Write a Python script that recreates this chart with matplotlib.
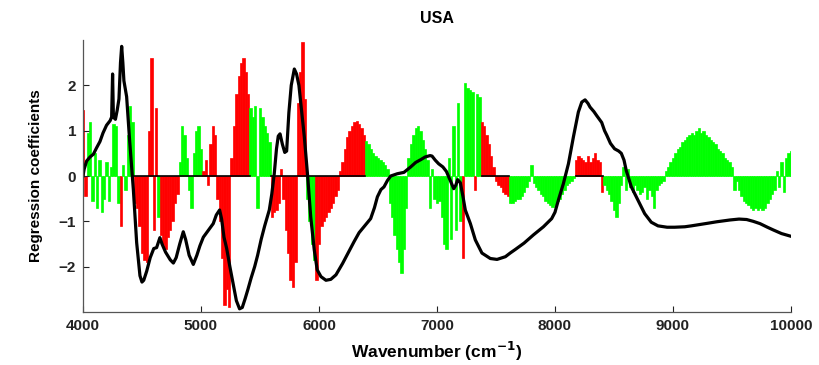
import numpy as np
import matplotlib
matplotlib.use("Agg")
import matplotlib.pyplot as plt

plt.rcParams['font.family'] = ['Liberation Sans', 'DejaVu Sans']
plt.rcParams['font.weight'] = 'bold'

# regression coefficients, one every 20 cm-1 from 4000 to 10000
coef_start = 4000
coef_step = 20
coef = [
    1.45, -0.45, 0.95, 1.2, -0.55, 0.5, -0.7, 0.35, -0.8, -0.5,
    0.3, -0.55, 0.2, 1.15, 1.1, -0.6, -1.1, 0.25, -0.3, 0.9,
    1.55, 1.2, -0.6, -0.7, -1.1, -1.7, -1.85, -1.9, 1.0, 2.6,
    -1.2, 1.5, -0.9, -1.3, -1.5, -1.6, -1.35, -1.2, -1.0, -0.6,
    -0.4, 0.3, 1.1, 0.9, 0.4, -0.3, -0.7, 0.5, 1.0, 1.1,
    0.6, 0.1, 0.35, -0.2, 0.7, 1.1, 0.9, -0.5, -1.0, -1.8,
    -2.85, -2.5, -2.9, 0.4, 1.1, 1.8, 2.2, 2.5, 2.6, 2.3,
    1.8, 1.5, 1.3, 1.55, -0.7, 1.5, 1.3, 1.1, 0.95, 0.75,
    -0.9, -0.8, -0.75, -0.6, 0.15, -0.5, -1.2, -1.7, -2.3, -2.45,
    -1.9, 1.6, 2.3, 2.95, 1.7, -0.5, -1.0, -1.5, -1.85, -2.3,
    -1.5, -1.1, -1.0, -0.9, -0.8, -0.7, -0.6, -0.45, -0.3, 0.1,
    0.3, 0.6, 0.85, 1.0, 1.1, 1.2, 1.22, 1.15, 1.05, 0.9,
    0.78, 0.7, 0.6, 0.5, 0.45, 0.4, 0.35, 0.3, 0.25, 0.15,
    -0.6, -0.9, -1.3, -1.6, -1.9, -2.15, -1.6, -0.7, 0.4, 0.7,
    0.9, 1.05, 1.1, 1.0, 0.8, 0.6, 0.35, -0.7, 0.15, -0.5,
    -0.6, -0.55, -0.9, -1.5, -1.6, 0.4, -1.4, 1.1, -1.2, 1.6,
    -1.0, -1.8, 2.05, 1.95, 1.9, 1.85, -0.3, 1.8, 1.75, 1.2,
    1.1, 0.9, 0.7, 0.45, 0.2, -0.1, -0.2, -0.25, -0.35, -0.4,
    -0.45, -0.6, -0.6, -0.55, -0.5, -0.5, -0.45, -0.35, -0.25, -0.1,
    0.25, -0.15, -0.25, -0.3, -0.4, -0.45, -0.55, -0.6, -0.65, -0.68,
    -0.65, -0.55, -0.5, -0.4, -0.3, -0.2, -0.15, -0.1, -0.05, 0.35,
    0.45, 0.4, 0.35, 0.3, 0.45, 0.3, 0.4, 0.5, 0.35, 0.3,
    -0.35, -0.2, -0.3, -0.4, -0.55, -0.75, -0.9, -0.6, -0.2, 0.2,
    -0.3, 0.15, -0.25, -0.35, -0.2, -0.3, -0.4, -0.35, -0.25, -0.5,
    -0.3, -0.45, -0.7, -0.3, -0.2, -0.15, -0.1, 0.1, 0.2, 0.3,
    0.4, 0.5, 0.6, 0.65, 0.75, 0.8, 0.85, 0.9, 0.95, 0.9,
    1.0, 1.05, 0.95, 1.0, 0.9, 0.85, 0.8, 0.75, 0.7, 0.6,
    0.55, 0.5, 0.4, 0.35, 0.3, 0.2, -0.3, -0.1, -0.3, -0.45,
    -0.55, -0.6, -0.65, -0.7, -0.75, -0.7, -0.75, -0.7, -0.75, -0.7,
    -0.6, -0.5, -0.4, -0.3, 0.1, -0.25, 0.3, -0.35, 0.4, 0.5,
    0.55,
]

# wavenumber ranges where coefficients are significant (red)
red_spans = [(3990, 4030), (4310, 4330), (4430, 4630), (4650, 4810),
             (5010, 5410), (5590, 5890), (5970, 6390), (7215, 7225),
             (7315, 7325), (7370, 7610), (8170, 8410)]
zero_spans = [(4430, 5415), (5590, 6390), (7380, 7610), (8180, 8410)]

# scaled mean spectrum
spec_wn = [4000, 4010, 4031, 4060, 4088, 4115, 4144, 4170, 4200, 4230,
           4243, 4251, 4258, 4275, 4290, 4305, 4318, 4328, 4338, 4347,
           4370, 4395, 4427, 4455, 4483, 4500, 4515, 4540, 4570, 4600,
           4624, 4652, 4670, 4700, 4740, 4766, 4790, 4820, 4850, 4870,
           4900, 4935, 4965, 4991, 5020, 5048, 5075, 5104, 5130, 5158,
           5175, 5195, 5218, 5245, 5274, 5300, 5327, 5350, 5375, 5398,
           5425, 5455, 5480, 5510, 5540, 5579, 5600, 5621, 5640, 5655,
           5670, 5690, 5710, 5726, 5745, 5765, 5791, 5810, 5830, 5850,
           5876, 5904, 5930, 5960, 5985, 6017, 6059, 6100, 6144, 6200,
           6250, 6297, 6340, 6381, 6438, 6470, 6495, 6525, 6551, 6580,
           6608, 6664, 6720, 6777, 6820, 6862, 6900, 6941, 6958, 6985,
           7014, 7050, 7080, 7113, 7142, 7160, 7175, 7198, 7220, 7240,
           7283, 7325, 7381, 7452, 7509, 7580, 7620, 7664, 7738, 7817,
           7902, 7972, 8000, 8029, 8071, 8114, 8156, 8198, 8227, 8255,
           8280, 8297, 8330, 8354, 8396, 8420, 8439, 8470, 8505, 8540,
           8562, 8585, 8604, 8647, 8703, 8760, 8816, 8873, 8950, 9014,
           9100, 9155, 9229, 9300, 9370, 9483, 9560, 9624, 9680, 9737,
           9800, 9850, 9920, 10000]
spec_val = [0.0, 0.15, 0.33, 0.42, 0.48, 0.62, 0.76, 0.95, 1.12, 1.22,
            1.3, 2.25, 1.3, 1.25, 1.45, 1.7, 2.5, 2.86, 2.5, 2.1,
            1.75, 0.8, -0.3, -1.47, -2.2, -2.34, -2.3, -2.1, -1.8, -1.6,
            -1.58, -1.36, -1.5, -1.68, -1.85, -1.92, -1.8, -1.5, -1.23, -1.4,
            -1.75, -1.95, -1.75, -1.54, -1.35, -1.25, -1.15, -1.05, -0.86, -0.75,
            -0.95, -1.35, -1.6, -2.0, -2.4, -2.75, -2.93, -2.9, -2.7, -2.5,
            -2.25, -2.0, -1.75, -1.4, -1.1, -0.75, -0.4, 0.05, 0.6, 0.88,
            0.93, 0.7, 0.52, 0.55, 1.4, 2.0, 2.36, 2.25, 2.0, 1.5,
            0.86, 0.0, -0.9, -1.63, -2.07, -2.22, -2.3, -2.28, -2.18, -1.93,
            -1.68, -1.45, -1.25, -1.12, -0.94, -0.7, -0.46, -0.3, -0.24, -0.1,
            0.0, 0.05, 0.08, 0.2, 0.3, 0.36, 0.42, 0.45, 0.44, 0.35,
            0.27, 0.2, 0.1, -0.1, -0.28, -0.2, -0.08, -0.15, -0.45, -0.75,
            -1.05, -1.41, -1.7, -1.82, -1.84, -1.78, -1.7, -1.62, -1.48, -1.3,
            -1.12, -0.94, -0.8, -0.53, -0.17, 0.27, 0.86, 1.41, 1.63, 1.68,
            1.6, 1.52, 1.42, 1.33, 1.18, 1.0, 0.9, 0.72, 0.6, 0.55,
            0.5, 0.35, 0.12, -0.24, -0.53, -0.83, -1.02, -1.1, -1.13, -1.13,
            -1.12, -1.1, -1.07, -1.04, -1.01, -0.97, -0.95, -0.96, -1.0, -1.05,
            -1.13, -1.19, -1.27, -1.33]

wn = coef_start + coef_step * np.arange(len(coef))
colors = []
for w in wn:
    is_red = any(a <= w <= b for a, b in red_spans)
    colors.append('#ff0000' if is_red else '#00ff00')

fig = plt.figure(figsize=(8.19, 3.65), dpi=100)
ax = fig.add_axes([0.1013, 0.1452, 0.8645, 0.7452])

ax.bar(wn, coef, width=coef_step, color=colors, edgecolor=colors, linewidth=0.5)
for a, b in zero_spans:
    ax.plot([a, b], [0, 0], color='black', lw=1.2)
ax.plot(spec_wn, spec_val, color='black', lw=2.3)

ax.set_xlim(4000, 10000)
ax.set_ylim(-3, 3)
ax.set_xticks(range(4000, 10001, 1000))
ax.set_yticks([-2, -1, 0, 1, 2])
ax.tick_params(direction='in', length=4, width=0.8, labelsize=11, colors='#222222', pad=5)
for lab in ax.get_xticklabels() + ax.get_yticklabels():
    lab.set_fontweight('bold')
ax.spines['top'].set_visible(False)
ax.spines['right'].set_visible(False)
for s in ['left', 'bottom']:
    ax.spines[s].set_color('#555555')
    ax.spines[s].set_linewidth(0.9)

ax.set_title('USA', fontsize=11.5, fontweight='bold', pad=12)
ax.set_xlabel('Wavenumber (cm$^{-1}$)', fontsize=12.5, fontweight='bold', labelpad=5)
ax.set_ylabel('Regression coefficients', fontsize=11, fontweight='bold', labelpad=11)

fig.savefig('out.png', dpi=100)
